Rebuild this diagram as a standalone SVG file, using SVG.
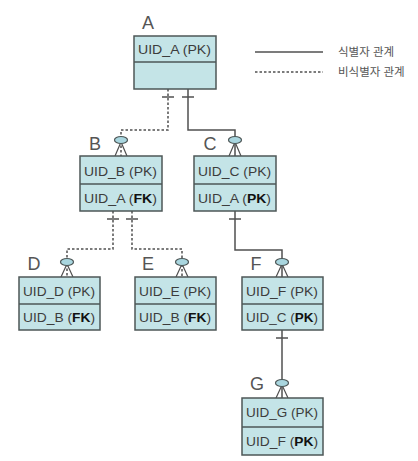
<svg xmlns="http://www.w3.org/2000/svg" width="418" height="461" viewBox="0 0 418 461">
<defs>
<style>
.box{fill:#c4e4e7;stroke:#4d5757;stroke-width:1.5}
.div{stroke:#4d5757;stroke-width:1.3}
.t{font-family:"Liberation Sans",Arial,sans-serif;font-size:12.5px;fill:#3c3c3c}
.b{font-weight:bold;fill:#111}
.lbl{font-family:"Liberation Sans",Arial,sans-serif;font-size:18px;fill:#555}
.leg{font-family:"Liberation Sans","Noto Sans CJK KR",sans-serif;font-size:11.5px;fill:#555}
.sol{fill:none;stroke:#505050;stroke-width:1.5}
.dot{fill:none;stroke:#505050;stroke-width:1.5;stroke-dasharray:2.5 2}
.tick{stroke:#505050;stroke-width:1.5}
.ov{fill:#a9d6df;stroke:#4d5757;stroke-width:1.2}
.cf{fill:none;stroke:#505050;stroke-width:1.2}
</style>
</defs>
<rect width="418" height="461" fill="#fff"/>

<g id="legend">
<line x1="255" y1="52" x2="323" y2="52" class="sol"/>
<text x="338" y="56" class="leg">식별자 관계</text>
<line x1="255" y1="72" x2="323" y2="72" class="dot"/>
<text x="338" y="76" class="leg">비식별자 관계</text>
</g>

<g id="connectors">
<!-- A to B (non-identifying) -->
<path d="M168,89 V130 H121 V156" class="dot"/>
<line x1="162" y1="97" x2="174" y2="97" class="tick"/>
<!-- A to C (identifying) -->
<path d="M188,89 V130 H235 V156" class="sol"/>
<line x1="182" y1="97" x2="194" y2="97" class="tick"/>
<!-- B to D -->
<path d="M113,211 V249 H67 V277" class="dot"/>
<line x1="107" y1="219" x2="119" y2="219" class="tick"/>
<!-- B to E -->
<path d="M132,211 V249 H182 V277" class="dot"/>
<line x1="126" y1="219" x2="138" y2="219" class="tick"/>
<!-- C to F -->
<path d="M235,211 V250 H282 V277" class="sol"/>
<line x1="229" y1="219" x2="241" y2="219" class="tick"/>
<!-- F to G -->
<path d="M282,330 V398" class="sol"/>
<line x1="276" y1="338" x2="288" y2="338" class="tick"/>

<!-- crow's feet + ovals -->
<path d="M121,142 L115,156 M121,142 L127,156" class="cf"/>
<ellipse cx="121" cy="140" rx="6.5" ry="3.5" class="ov"/>
<path d="M235,142 L229,156 M235,142 L241,156" class="cf"/>
<ellipse cx="235" cy="140" rx="6.5" ry="3.5" class="ov"/>
<path d="M67,264 L61,277 M67,264 L73,277" class="cf"/>
<ellipse cx="67" cy="262" rx="6.5" ry="3.5" class="ov"/>
<path d="M182,264 L176,277 M182,264 L188,277" class="cf"/>
<ellipse cx="182" cy="262" rx="6.5" ry="3.5" class="ov"/>
<path d="M282,264 L276,277 M282,264 L288,277" class="cf"/>
<ellipse cx="282" cy="262" rx="6.5" ry="3.5" class="ov"/>
<path d="M282,385 L276,398 M282,385 L288,398" class="cf"/>
<ellipse cx="282" cy="383" rx="6.5" ry="3.5" class="ov"/>
</g>

<g id="A">
<text x="148" y="29" class="lbl" text-anchor="middle">A</text>
<rect x="134" y="36" width="82" height="53" class="box"/>
<line x1="134" y1="62" x2="216" y2="62" class="div"/>
<text x="138" y="54" class="t" textLength="73" lengthAdjust="spacingAndGlyphs">UID_A (PK)</text>
</g>

<g id="B">
<text x="95" y="150" class="lbl" text-anchor="middle">B</text>
<rect x="80" y="156" width="82" height="55" class="box"/>
<line x1="80" y1="184" x2="162" y2="184" class="div"/>
<text x="84" y="176" class="t" textLength="73" lengthAdjust="spacingAndGlyphs">UID_B (PK)</text>
<text x="84" y="203" class="t" textLength="73" lengthAdjust="spacingAndGlyphs">UID_A (<tspan class="b">FK</tspan>)</text>
</g>

<g id="C">
<text x="210" y="150" class="lbl" text-anchor="middle">C</text>
<rect x="194" y="156" width="82" height="55" class="box"/>
<line x1="194" y1="184" x2="276" y2="184" class="div"/>
<text x="198" y="176" class="t" textLength="73" lengthAdjust="spacingAndGlyphs">UID_C (PK)</text>
<text x="198" y="203" class="t" textLength="73" lengthAdjust="spacingAndGlyphs">UID_A (<tspan class="b">PK</tspan>)</text>
</g>

<g id="D">
<text x="34" y="270" class="lbl" text-anchor="middle">D</text>
<rect x="19" y="277" width="81" height="53" class="box"/>
<line x1="19" y1="304" x2="100" y2="304" class="div"/>
<text x="23" y="296" class="t" textLength="72" lengthAdjust="spacingAndGlyphs">UID_D (PK)</text>
<text x="23" y="322" class="t" textLength="72" lengthAdjust="spacingAndGlyphs">UID_B (<tspan class="b">FK</tspan>)</text>
</g>

<g id="E">
<text x="148" y="270" class="lbl" text-anchor="middle">E</text>
<rect x="135" y="277" width="81" height="53" class="box"/>
<line x1="135" y1="304" x2="216" y2="304" class="div"/>
<text x="139" y="296" class="t" textLength="72" lengthAdjust="spacingAndGlyphs">UID_E (PK)</text>
<text x="139" y="322" class="t" textLength="72" lengthAdjust="spacingAndGlyphs">UID_B (<tspan class="b">FK</tspan>)</text>
</g>

<g id="F">
<text x="256" y="270" class="lbl" text-anchor="middle">F</text>
<rect x="242" y="277" width="81" height="53" class="box"/>
<line x1="242" y1="304" x2="323" y2="304" class="div"/>
<text x="246" y="296" class="t" textLength="72" lengthAdjust="spacingAndGlyphs">UID_F (PK)</text>
<text x="246" y="322" class="t" textLength="72" lengthAdjust="spacingAndGlyphs">UID_C (<tspan class="b">PK</tspan>)</text>
</g>

<g id="G">
<text x="257" y="390" class="lbl" text-anchor="middle">G</text>
<rect x="242" y="398" width="81" height="57" class="box"/>
<line x1="242" y1="427" x2="323" y2="427" class="div"/>
<text x="246" y="417" class="t" textLength="72" lengthAdjust="spacingAndGlyphs">UID_G (PK)</text>
<text x="246" y="446" class="t" textLength="72" lengthAdjust="spacingAndGlyphs">UID_F (<tspan class="b">PK</tspan>)</text>
</g>
</svg>
